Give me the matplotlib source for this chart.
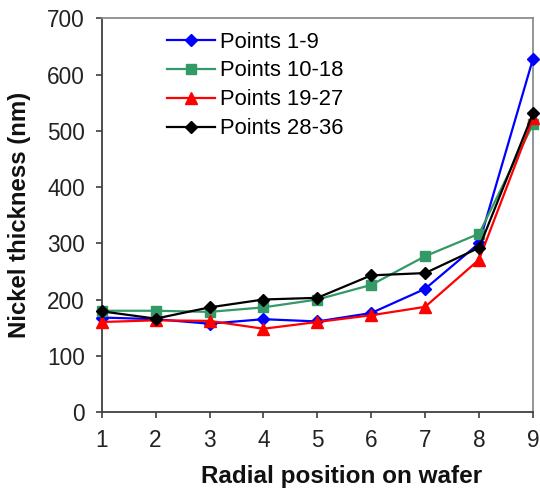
import matplotlib
matplotlib.use("Agg")
import matplotlib.pyplot as plt

plt.rcParams['font.family'] = ['Liberation Sans', 'DejaVu Sans']

positions = [1, 2, 3, 4, 5, 6, 7, 8, 9]
series_names = ["Points 1-9", "Points 10-18", "Points 19-27", "Points 28-36"]
points_1_9 = [168, 165, 157, 165, 161, 176, 219, 300, 628]
points_10_18 = [180, 180, 178, 186, 200, 226, 277, 317, 512]
points_19_27 = [160, 163, 162, 148, 160, 172, 187, 271, 522]
points_28_36 = [179, 166, 186, 200, 203, 243, 247, 292, 531]
y_ticks = [0, 100, 200, 300, 400, 500, 600, 700]

colors = ["#0000FF", "#339966", "#FF0000", "#000000"]
markers = ["D", "s", "^", "D"]
msizes = [6.5, 7, 8, 6.5]

fig = plt.figure(figsize=(5.4, 4.96), dpi=100)
ax = fig.add_axes([0.1883, 0.1694, 0.987 - 0.1883, 0.963 - 0.1694])

for vals, name, c, m, ms in zip([points_1_9, points_10_18, points_19_27, points_28_36],
                                series_names, colors, markers, msizes):
    ax.plot(positions, vals, color=c, marker=m, markersize=ms, linewidth=1.6,
            label=name, markeredgecolor=c, markerfacecolor=c, clip_on=False, zorder=3)

ax.set_xlim(1, 9)
ax.set_ylim(0, 700)
ax.set_xticks(positions)
ax.set_yticks(y_ticks)

for side in ["left", "bottom"]:
    ax.spines[side].set_color("#404040")
    ax.spines[side].set_linewidth(1.3)
for side in ["top", "right"]:
    ax.spines[side].set_color("#8c8c8c")
    ax.spines[side].set_linewidth(1.3)

ax.tick_params(axis="both", direction="out", length=4, width=1.2, color="#404040",
               labelsize=16.3, pad=8, labelcolor="#222222")
ax.tick_params(axis="x", top=False)
ax.tick_params(axis="y", right=False)

ax.set_xlabel("Radial position on wafer", fontsize=17.5, fontweight="bold", color="#111111")
ax.xaxis.set_label_coords(0.557, -0.135)
ax.set_ylabel("Nickel thickness (nm)", fontsize=17.3, fontweight="bold", color="#111111")
ax.yaxis.set_label_coords(-0.165, 0.5)

leg = ax.legend(loc="upper left", bbox_to_anchor=(0.12, 1.0), frameon=False,
                fontsize=15.8, numpoints=1, handlelength=2.2, handletextpad=0.25,
                labelspacing=0.36, borderaxespad=0.2)

fig.savefig("out.png", dpi=100)
